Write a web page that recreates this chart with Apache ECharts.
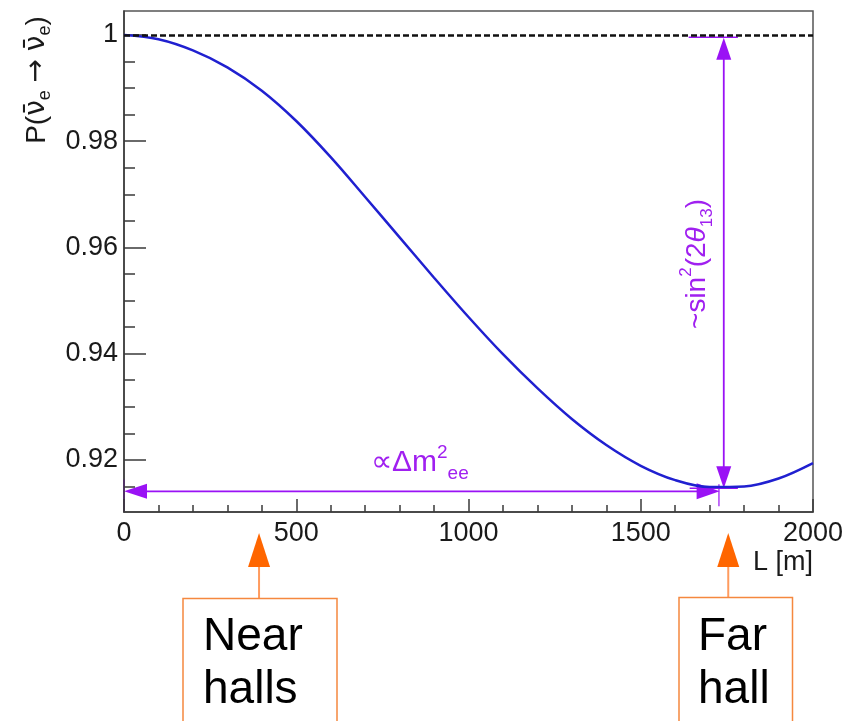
<!DOCTYPE html>
<html>
<head>
<meta charset="utf-8">
<script src="https://cdn.jsdelivr.net/npm/echarts@6/dist/echarts.min.js"></script>
<style>
  html, body { margin: 0; padding: 0; background: #ffffff; }
  #chart { width: 855px; height: 721px; }
</style>
</head>
<body>
<div id="chart"></div>
<script>
// Baseline L in metres and the electron antineutrino survival probability read at each one
const baselines = [0, 100, 200, 300, 400, 500, 600, 700, 800, 900, 1000,
                   1100, 1200, 1300, 1400, 1500, 1600, 1700, 1800, 1900, 2000];
const survivalProb = [1.0000, 0.9992, 0.9971, 0.9939, 0.9895, 0.9838, 0.9770, 0.9695, 0.9619, 0.9543, 0.9469,
                      0.9399, 0.9335, 0.9277, 0.9228, 0.9189, 0.9162, 0.9149, 0.9150, 0.9165, 0.9194];

// Axis ticks
const xTickValues = [0, 500, 1000, 1500, 2000];
const yMajorTicks = [0.92, 0.94, 0.96, 0.98, 1];
const yMinorTicks = [0.915, 0.925, 0.93, 0.935, 0.945, 0.95, 0.955, 0.965, 0.97, 0.975, 0.985, 0.99, 0.995];

// Reference level for no oscillation
const noOscLevel = 1;

const FONT = "'Liberation Sans', Arial, Helvetica, sans-serif";
const AXIS_COLOR = '#3a3a3a';
const PURPLE = '#9a12f5';
const PURPLE_TEXT = '#a020f0';

const Y_MIN = 0.9102, Y_MAX = 1.0045;

const chart = echarts.init(document.getElementById('chart'), null, { renderer: 'canvas' });

chart.setOption({
  animation: false,
  backgroundColor: '#ffffff',
  grid: {
    left: 124, right: 42, top: 11, bottom: 209,
    show: true, borderColor: '#555555', borderWidth: 1.5, backgroundColor: 'transparent'
  },
  xAxis: {
    type: 'value', min: 0, max: 2000, interval: 500,
    axisLine: { show: true, onZero: false, lineStyle: { color: AXIS_COLOR, width: 1.5 } },
    axisTick: { show: true, inside: true, length: 13, lineStyle: { color: AXIS_COLOR, width: 1.5 } },
    minorTick: { show: true, splitNumber: 5, length: 7, lineStyle: { color: AXIS_COLOR, width: 1.5 } },
    axisLabel: { color: '#1a1a1a', fontSize: 27, fontFamily: FONT, margin: 8,
                 customValues: xTickValues, formatter: v => String(v) },
    splitLine: { show: false }
  },
  yAxis: [
    {
      type: 'value', min: Y_MIN, max: Y_MAX, position: 'left',
      axisLine: { show: true, onZero: false, lineStyle: { color: AXIS_COLOR, width: 1.5 } },
      axisTick: { show: true, inside: true, length: 22, customValues: yMajorTicks,
                  lineStyle: { color: AXIS_COLOR, width: 1.5 } },
      axisLabel: { color: '#1a1a1a', fontSize: 27, fontFamily: FONT, margin: 6,
                   customValues: yMajorTicks,
                   formatter: v => (Math.abs(v - 1) < 1e-9 ? '1' : String(+v.toFixed(2))) },
      splitLine: { show: false }
    },
    {
      type: 'value', min: Y_MIN, max: Y_MAX, position: 'left', offset: 0,
      axisLine: { show: false },
      axisTick: { show: true, inside: true, length: 11, customValues: yMinorTicks,
                  lineStyle: { color: AXIS_COLOR, width: 1.5 } },
      axisLabel: { show: false, customValues: yMinorTicks },
      splitLine: { show: false }
    }
  ],
  series: [{
    type: 'line',
    data: baselines.map((L, i) => [L, survivalProb[i]]),
    smooth: 0.35,
    showSymbol: false,
    lineStyle: { color: '#2020d0', width: 2.5 },
    markLine: {
      silent: true,
      symbol: 'none',
      label: { show: false },
      lineStyle: { type: [6, 3], color: '#111111', width: 2.5 },
      data: [{ yAxis: noOscLevel }]
    }
  }]
});

// --- annotations: arrows expressed in axis coordinates (L, P) ---
const toPx = (pt) => chart.convertToPixel({ gridIndex: 0 }, pt);

function arrowHead(tip, dir, len, halfW, color) {
  const [tx, ty] = tip, [dx, dy] = dir;
  const bx = tx - dx * len, by = ty - dy * len;
  return {
    type: 'polygon', silent: true,
    shape: { points: [[tx, ty], [bx - dy * halfW, by + dx * halfW], [bx + dy * halfW, by - dx * halfW]] },
    style: { fill: color }
  };
}
function seg(a, b, color, w) {
  return { type: 'line', silent: true, shape: { x1: a[0], y1: a[1], x2: b[0], y2: b[1] },
           style: { stroke: color, lineWidth: w } };
}

const hArrowA = toPx([0, 0.9141]), hArrowB = toPx([1729, 0.9141]);
const leftMarkTop = toPx([0, 0.9163]), leftMarkBot = toPx([0, Y_MIN]);
const vArrowTop = toPx([1741, 0.99945]), vArrowBot = toPx([1741, 0.91468]);
const topBarA = toPx([1639, 0.99957]), topBarB = toPx([1782, 0.99957]);
const botBarA = toPx([1642, 0.91466]), botBarB = toPx([1782, 0.91466]);
const minMarkTop = toPx([1727, 0.9154]), minMarkBot = toPx([1727, 0.9113]);

const nearX = toPx([392, Y_MIN])[0];
const farX = toPx([1754, Y_MIN])[0];

const ORANGE = '#ff6600';
const ORANGE_LIGHT = '#ff9b5e';
const BOX = '#f5883f';

const graphics = [
  // horizontal double arrow along the baseline
  seg([hArrowA[0] + 10, hArrowA[1]], [hArrowB[0] - 10, hArrowB[1]], PURPLE, 1.8),
  arrowHead(hArrowA, [-1, 0], 23, 7.5, PURPLE),
  arrowHead(hArrowB, [1, 0], 23, 8, PURPLE),
  seg(leftMarkTop, leftMarkBot, PURPLE, 1.8),
  // vertical double arrow for the oscillation amplitude
  seg([vArrowTop[0], vArrowTop[1] + 10], [vArrowBot[0], vArrowBot[1] - 10], PURPLE, 1.8),
  arrowHead(vArrowTop, [0, -1], 22, 7.5, PURPLE),
  arrowHead(vArrowBot, [0, 1], 22, 7.5, PURPLE),
  seg(topBarA, topBarB, PURPLE, 1.5),
  seg(botBarA, botBarB, PURPLE, 1.5),
  seg(minMarkTop, minMarkBot, PURPLE, 1.2),
  // purple labels
  {
    type: 'text', silent: true, x: 371, y: 463,
    style: {
      text: '∝Δm{sup|2}{sub|ee}', fill: PURPLE_TEXT, font: '30px ' + FONT,
      align: 'left', verticalAlign: 'middle',
      rich: {
        sup: { fontSize: 19, fontFamily: FONT, fill: PURPLE_TEXT, verticalAlign: 'top', lineHeight: 19 },
        sub: { fontSize: 19, fontFamily: FONT, fill: PURPLE_TEXT, verticalAlign: 'bottom', lineHeight: 19 }
      },
      lineHeight: 40
    }
  },
  {
    type: 'text', silent: true, x: 697, y: 264, rotation: Math.PI / 2,
    style: {
      text: '~sin{sup|2}(2{it|θ}{sub|13})', fill: PURPLE_TEXT, font: '28px ' + FONT,
      align: 'center', verticalAlign: 'middle',
      rich: {
        sup: { fontSize: 17, fontFamily: FONT, fill: PURPLE_TEXT, verticalAlign: 'top', lineHeight: 17 },
        sub: { fontSize: 17, fontFamily: FONT, fill: PURPLE_TEXT, verticalAlign: 'bottom', lineHeight: 17 },
        it: { fontSize: 28, fontStyle: 'italic', fontFamily: FONT, fill: PURPLE_TEXT, lineHeight: 38 }
      },
      lineHeight: 38
    }
  },
  // axis titles
  {
    type: 'text', silent: true, x: 37, y: 80, rotation: Math.PI / 2,
    style: {
      text: 'P({nu|ν\u0304}{sub|e} {arr|→} {nu|ν\u0304}{sub|e})', fill: '#1a1a1a', font: '28px ' + FONT,
      align: 'center', verticalAlign: 'middle',
      rich: {
        nu: { fontSize: 28, fontFamily: "'DejaVu Sans'", fill: '#1a1a1a', lineHeight: 34 },
        arr: { fontSize: 28, fontFamily: "'DejaVu Sans'", fill: '#1a1a1a', lineHeight: 34 },
        sub: { fontSize: 18, fontFamily: FONT, fill: '#1a1a1a', verticalAlign: 'bottom', lineHeight: 18 }
      },
      lineHeight: 34
    }
  },
  {
    type: 'text', silent: true, x: 813, y: 563,
    style: { text: 'L [m]', fill: '#1a1a1a', font: '27px ' + FONT, align: 'right', verticalAlign: 'middle' }
  },
  // hall markers below the axis
  seg([nearX, 565], [nearX, 598], ORANGE_LIGHT, 2),
  arrowHead([nearX, 533], [0, -1], 34, 11, ORANGE),
  { type: 'polyline', silent: true, shape: { points: [[183, 724], [183, 598.5], [337, 598.5], [337, 724]] },
    style: { stroke: BOX, lineWidth: 1.5, fill: null } },
  { type: 'text', silent: true, x: 203, y: 611,
    style: { text: 'Near\nhalls', fill: '#000000', font: '46px ' + FONT, lineHeight: 53,
             align: 'left', verticalAlign: 'top' } },
  seg([farX, 565], [farX, 598], ORANGE_LIGHT, 2),
  arrowHead([farX, 533], [0, -1], 34, 11, ORANGE),
  { type: 'polyline', silent: true, shape: { points: [[679, 724], [679, 597.5], [792.5, 597.5], [792.5, 724]] },
    style: { stroke: BOX, lineWidth: 1.5, fill: null } },
  { type: 'text', silent: true, x: 698, y: 611,
    style: { text: 'Far\nhall', fill: '#000000', font: '46px ' + FONT, lineHeight: 53,
             align: 'left', verticalAlign: 'top' } }
];

chart.setOption({ graphic: graphics });
</script>
</body>
</html>
